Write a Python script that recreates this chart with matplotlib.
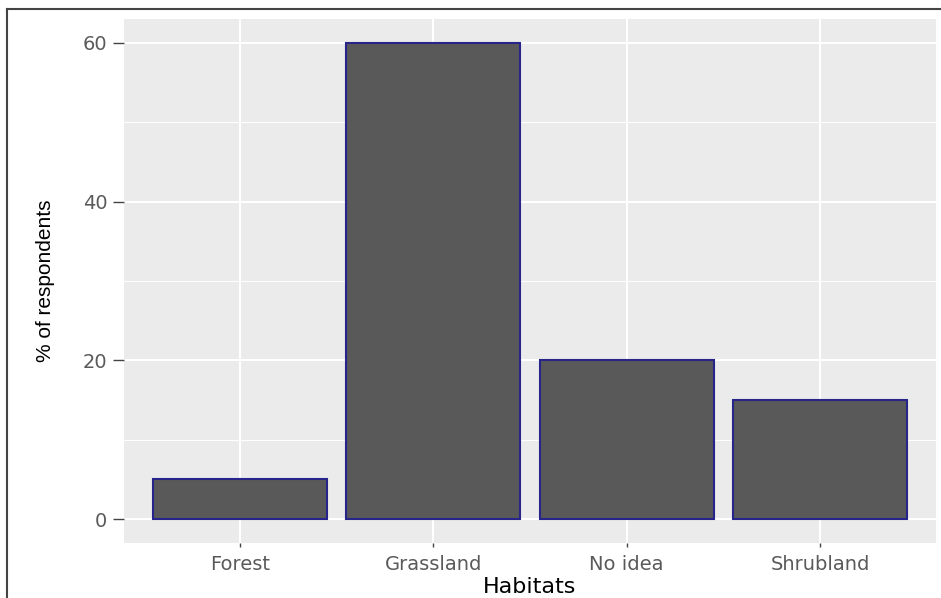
import numpy as np
import matplotlib.pyplot as plt
from matplotlib.lines import Line2D

habitats = ['Forest', 'Grassland', 'No idea', 'Shrubland']
percent = [5, 60, 20, 15]

plt.rcParams['font.family'] = ['DejaVu Sans']

fig = plt.figure(figsize=(9.41, 5.98), dpi=100)
ax = fig.add_axes([124 / 941, 1 - 543 / 598, (936 - 124) / 941, (543 - 19) / 598])

x = np.arange(1, len(habitats) + 1)
ax.bar(x, percent, width=0.9, color='#595959', edgecolor='#27248a', linewidth=1.5, zorder=3)

ax.set_facecolor('#EBEBEB')
ax.set_xlim(0.4, 4.6)
ax.set_ylim(-3, 63)
ax.set_xticks(x)
ax.set_xticklabels(habitats)
ax.set_yticks([0, 20, 40, 60])
ax.set_yticks([10, 30, 50], minor=True)
ax.grid(which='major', color='white', linewidth=1.5, zorder=0)
ax.grid(which='minor', axis='y', color='white', linewidth=0.7, zorder=0)
ax.tick_params(which='minor', length=0)
ax.tick_params(which='major', width=1, color='#444444',
               labelsize=14, labelcolor='#5a5a5a')
ax.tick_params(axis='y', length=8, pad=4)
ax.tick_params(axis='x', length=3, pad=6)
for s in ax.spines.values():
    s.set_visible(False)

ax.set_xlabel('Habitats', fontsize=16, color='black')
ax.xaxis.set_label_coords(0.5, -0.064)
ax.set_ylabel('% of respondents', fontsize=15, color='black',
              family=['Liberation Sans', 'DejaVu Sans'])
ax.yaxis.set_label_coords(-0.085, 0.5)

# screenshot border lines at top and left
fig.add_artist(Line2D([7 / 941, 1], [1 - 9 / 598, 1 - 9 / 598], color='#444444', linewidth=1.5))
fig.add_artist(Line2D([7 / 941, 7 / 941], [0, 1 - 9 / 598], color='#444444', linewidth=1.5))

fig.savefig('out.png', dpi=100)
